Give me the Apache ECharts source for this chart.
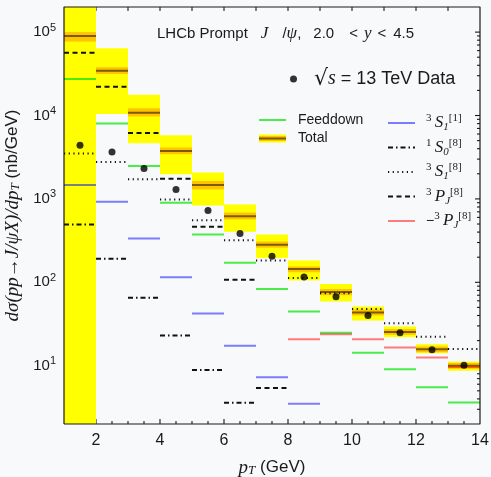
<!DOCTYPE html>
<html>
<head>
<meta charset="utf-8">
<script src="https://cdn.jsdelivr.net/npm/echarts@6/dist/echarts.min.js"></script>
<style>
  *{margin:0;padding:0;}
  body{background:#f8f9fa;}
  #main{width:491px;height:477px;}
</style>
</head>
<body>
<div id="main"></div>
<script>
// pT bins (GeV)
var binLo = [1, 2, 3, 4, 5, 6, 7, 8, 9, 10, 11, 12, 13];
var binHi = [2, 3, 4, 5, 6, 7, 8, 9, 10, 11, 12, 13, 14];

// LHCb 13 TeV points (nb/GeV)
var lhcbData = [4400, 3660, 2310, 1300, 727, 384, 205, 116, 67.1, 40.0, 24.9, 15.5, 10.1];

// total prediction: central line, inner (orange) and outer (yellow) bands
var totalCentral = [89500, 34500, 10800, 3760, 1470, 621, 283, 144, 76.4, 43.4, 25.4, 15.7, 10.0];
var totalInnerLo = [77100, 31500, 9750, 3430, 1300, 567, 260, 132, 70.0, 40.0, 23.5, 14.5, 9.3];
var totalInnerHi = [100000, 37900, 12200, 4130, 1640, 685, 309, 155, 83.0, 47.0, 27.5, 17.0, 10.8];
var totalOuterLo = [1, 10400, 4650, 1970, 835, 403, 196, 105.5, 58.9, 34.8, 22.0, 14.1, 8.7];
var totalOuterHi = [300000, 64200, 17700, 5810, 2070, 859, 374, 183, 95.4, 51.3, 29.5, 18.1, 11.2];

// channels
var feeddown = [27400, 8040, 2480, 900, 374, 171, 83.0, 44.7, 24.9, 14.3, 9.05, 5.5, 3.63];
var s1Singlet = [1470, 925, 335, 115, 42.3, 17.3, 7.25, 3.49, null, null, null, null, null];
var s0Octet = [493, 191, 65.3, 23.0, 8.88, 3.59, null, null, null, null, null, null, null];
var s1Octet = [3500, 2770, 1717, 986, 556, 319, 183, 113, 74.0, 48.0, 32.4, 22.3, 15.9];
var pjOctet = [56400, 22100, 6190, 1750, 463, 107, 5.39, null, null, null, null, null, null];
var pjOctetNeg = [null, null, null, null, null, null, null, 20.8, 23.9, 20.8, 16.5, 12.5, 9.57];

// frame ticks
var xMajorTicks = [2, 4, 6, 8, 10, 12];
var xMinorTicks = [1.5, 2.5, 3, 3.5, 4.5, 5, 5.5, 6.5, 7, 7.5, 8.5, 9, 9.5, 10.5, 11, 11.5, 12.5, 13, 13.5];
var xTopTicks = [2, 3, 4, 5, 6, 7, 8, 9, 10, 11, 12, 13];
var yMajorTicks = [10, 100, 1000, 10000, 100000];
var minorMantissa = [2, 3, 4, 5, 6, 7, 8, 9];
var xRange = [1, 14];
var yRange = [2, 200000];

var sans = 'Liberation Sans';
var serif = 'Liberation Serif';
var ink = '#1a1a1a';

function stepData(vals) {
    var out = [];
    vals.forEach(function (v, i) {
        if (v == null) return;
        out.push([binLo[i], v], [binHi[i], v], [binHi[i], '-']);
    });
    return out;
}

function bandData(lo, hi) {
    return binLo.map(function (x0, i) { return [x0, binHi[i], lo[i], hi[i]]; });
}

function renderBand(color) {
    return function (params, api) {
        var p0 = api.coord([api.value(0), api.value(3)]);
        var p1 = api.coord([api.value(1), api.value(2)]);
        var cs = params.coordSys;
        var rect = echarts.graphic.clipRectByRect(
            {x: p0[0], y: p0[1], width: p1[0] - p0[0], height: p1[1] - p0[1]},
            {x: cs.x, y: cs.y, width: cs.width, height: cs.height});
        return rect && {type: 'rect', shape: rect, style: {fill: color}};
    };
}

function stepLine(name, vals, color, width, dash, z) {
    return {
        name: name, type: 'line', data: stepData(vals),
        symbol: 'none', showSymbol: false, connectNulls: false, z: z || 3,
        lineStyle: {color: color, width: width, type: dash || 'solid', cap: 'butt'},
        itemStyle: {color: color},
        emphasis: {disabled: true}
    };
}

// tick rows: [kind, x, y]; kind 0/1 bottom major/minor, 2 top, 3/4 left+right major/minor
var tickRows = [];
xMajorTicks.forEach(function (x) { tickRows.push([0, x, 100]); });
xMinorTicks.forEach(function (x) { tickRows.push([1, x, 100]); });
xTopTicks.forEach(function (x) { tickRows.push([2, x, 100]); });
yMajorTicks.forEach(function (y) { tickRows.push([3, 7.5, y]); });
yMajorTicks.concat([1]).forEach(function (d) {
    minorMantissa.forEach(function (m) {
        var v = m * d;
        if (v > yRange[0] && v < yRange[1]) tickRows.push([4, 7.5, v]);
    });
});

function renderTick(params, api) {
    var kind = api.value(0);
    var p = api.coord([api.value(1), api.value(2)]);
    var cs = params.coordSys;
    var w = 1.1;
    var shape;
    if (kind <= 2) {
        var len = kind === 0 ? 5 : (kind === 1 ? 3 : 4);
        var y0 = kind === 2 ? cs.y : cs.y + cs.height - len;
        shape = {x: p[0] - w / 2, y: y0, width: w, height: len};
        return {type: 'rect', shape: shape, style: {fill: ink}};
    }
    var l = kind === 3 ? 5 : 3;
    // left tick plus a mirrored one on the right edge
    return {
        type: 'group',
        children: [
            {type: 'rect', shape: {x: cs.x, y: p[1] - w / 2, width: l, height: w}, style: {fill: ink}},
            {type: 'rect', shape: {x: cs.x + cs.width - l, y: p[1] - w / 2, width: l, height: w}, style: {fill: ink}}
        ]
    };
}

var totalIcon = 'image://data:image/svg+xml;utf8,' + encodeURIComponent(
    '<svg xmlns="http://www.w3.org/2000/svg" width="27" height="14">' +
    '<rect y="3" width="27" height="8" fill="#ffff00"/>' +
    '<rect y="4.5" width="27" height="5" fill="#ffc400"/>' +
    '<rect y="6" width="27" height="2" fill="#7d5a00"/></svg>');

// line-only legend icon: hide the marker that line series put in the middle
var noMarker = {color: 'rgba(0,0,0,0)', borderColor: 'rgba(0,0,0,0)', borderWidth: 0};

var legendRich = {
    t: {fontFamily: sans, fontSize: 14, color: ink, lineHeight: 20},
    d: {fontFamily: sans, fontSize: 18, color: ink, lineHeight: 20},
    m: {fontFamily: serif, fontStyle: 'italic', fontSize: 17, color: ink, lineHeight: 20},
    ms: {fontFamily: serif, fontStyle: 'italic', fontSize: 20, color: ink, lineHeight: 20},
    sp: {fontFamily: serif, fontSize: 11, color: ink, lineHeight: 12, verticalAlign: 'top'},
    sb: {fontFamily: serif, fontStyle: 'italic', fontSize: 11, color: ink, lineHeight: 12, verticalAlign: 'bottom'},
    r: {fontFamily: 'DejaVu Serif', fontSize: 22, color: ink, lineHeight: 24}
};

var legendLabels = {
    'Feeddown': '{t|Feeddown}',
    'Total': '{t|Total}',
    '3S1[1]': '{sp|3} {m|S}{sb|1}{sp|[1]}',
    '1S0[8]': '{sp|1} {m|S}{sb|0}{sp|[8]}',
    '3S1[8]': '{sp|3} {m|S}{sb|1}{sp|[8]}',
    '3PJ[8]': '{sp|3} {m|P}{sb|J}{sp|[8]}',
    '-3PJ[8]': '{t|\u2212}{sp|3} {m|P}{sb|J}{sp|[8]}',
    'Data': '{r|\u221a}{ms|s}{d| = 13 TeV Data}'
};

function legendFmt(name) { return legendLabels[name]; }

var titleRich = {
    a: {fontFamily: sans, fontSize: 15, fontWeight: 'normal', color: ink},
    m: {fontFamily: serif, fontStyle: 'italic', fontSize: 17, fontWeight: 'normal', color: ink},
    g1: {width: 13}, g2: {width: 14}, g3: {width: 12}, g4: {width: 15}, g5: {width: 6}, g6: {width: 7}
};

var option = {
    backgroundColor: '#f8f9fa',
    animation: false,
    title: {
        text: '{a|LHCb Prompt}{g1| }{m|J}{g2| }{a|/}{m|\u03c8}{a|,}{g3| }{a|2.0}{g4| }{a|<}{g5| }{m|y}{g5| }{a|<}{g6| }{a|4.5}',
        left: 157, top: 25, padding: 0,
        textStyle: {fontWeight: 'normal', rich: titleRich}
    },
    legend: [
        {
            data: [{name: 'Data', icon: 'circle'}],
            left: 290, top: 68, padding: 0, itemWidth: 7, itemHeight: 7,
            selectedMode: false, formatter: legendFmt,
            textStyle: {padding: [0, 0, 0, 12], rich: legendRich}
        },
        {
            data: [{name: 'Feeddown', itemStyle: noMarker}, {name: 'Total', icon: totalIcon}],
            orient: 'vertical', left: 258, top: 113, padding: 0,
            itemWidth: 27, itemHeight: 14, itemGap: 4.5,
            selectedMode: false, formatter: legendFmt,
            textStyle: {padding: [0, 0, 0, 7], rich: legendRich}
        },
        {
            data: ['3S1[1]', '1S0[8]', '3S1[8]', '3PJ[8]', '-3PJ[8]'].map(function (n) {
                return {name: n, itemStyle: noMarker};
            }),
            orient: 'vertical', left: 387, top: 113, padding: 0,
            itemWidth: 27, itemHeight: 14, itemGap: 4.5,
            selectedMode: false, formatter: legendFmt,
            textStyle: {padding: [0, 0, 0, 6], rich: legendRich}
        }
    ],
    grid: {left: 64, right: 11, top: 7, bottom: 53, outerBoundsMode: 'none'},
    xAxis: {
        type: 'value', min: xRange[0], max: xRange[1], splitNumber: 6,
        name: '{m|p}{s|T}{t| (GeV)}', nameLocation: 'middle', nameGap: 34,
        nameTextStyle: {
            rich: {
                m: {fontFamily: serif, fontStyle: 'italic', fontSize: 19, color: ink},
                s: {fontFamily: serif, fontStyle: 'italic', fontSize: 13, color: ink, verticalAlign: 'bottom', lineHeight: 12},
                t: {fontFamily: sans, fontSize: 17, color: ink}
            }
        },
        axisLine: {show: false},
        axisTick: {show: false},
        splitLine: {show: false},
        axisLabel: {
            fontFamily: sans, fontSize: 16, color: ink, margin: 9,
            formatter: function (v) { return v === 1 ? '' : String(v); }
        }
    },
    yAxis: {
        type: 'log', logBase: 10, min: yRange[0], max: yRange[1],
        name: '{m|d\u03c3(pp\u2192J/\u03c8X)/dp}{s|T}{t| (nb/GeV)}',
        nameLocation: 'middle', nameGap: 30, nameRotate: 90,
        nameTextStyle: {
            rich: {
                m: {fontFamily: serif, fontStyle: 'italic', fontSize: 19, color: ink},
                s: {fontFamily: serif, fontStyle: 'italic', fontSize: 13, color: ink, verticalAlign: 'bottom', lineHeight: 12},
                t: {fontFamily: sans, fontSize: 17, color: ink}
            }
        },
        axisLine: {show: false},
        axisTick: {show: false},
        splitLine: {show: false},
        axisLabel: {
            margin: 8,
            formatter: function (v) {
                var e = Math.log10(v);
                if (Math.abs(e - Math.round(e)) > 1e-6) return '';
                return '{b|10}{e|' + Math.round(e) + '}';
            },
            rich: {
                b: {fontFamily: sans, fontSize: 15, color: ink, lineHeight: 20},
                e: {fontFamily: sans, fontSize: 11, color: ink, lineHeight: 12, verticalAlign: 'top'}
            }
        }
    },
    series: [
        {
            name: 'frame ticks', type: 'custom', z: 1,
            renderItem: renderTick,
            encode: {x: 1, y: 2},
            data: tickRows
        },
        {
            name: 'Total outer', type: 'custom', z: 1, silent: true,
            renderItem: renderBand('#ffff00'),
            encode: {x: [0, 1], y: [2, 3]},
            data: bandData(totalOuterLo, totalOuterHi)
        },
        {
            name: 'Total inner', type: 'custom', z: 1, silent: true,
            renderItem: renderBand('#ffc400'),
            encode: {x: [0, 1], y: [2, 3]},
            data: bandData(totalInnerLo, totalInnerHi)
        },
        stepLine('Total', totalCentral, '#7d5a00', 2, 'solid', 2),
        stepLine('Feeddown', feeddown, 'rgba(0,230,0,0.7)', 2),
        stepLine('3S1[1]', s1Singlet, 'rgba(0,0,255,0.5)', 2),
        stepLine('1S0[8]', s0Octet, '#111', 2, [5, 3, 1.5, 3]),
        stepLine('3S1[8]', s1Octet, '#111', 2, [1.2, 3.5]),
        stepLine('3PJ[8]', pjOctet, '#111', 2, [5, 3.5]),
        stepLine('-3PJ[8]', pjOctetNeg, 'rgba(255,0,0,0.5)', 2),
        {
            name: 'Data', type: 'scatter', z: 5,
            symbol: 'circle', symbolSize: 7,
            itemStyle: {color: '#000'},
            data: lhcbData.map(function (v, i) { return [(binLo[i] + binHi[i]) / 2, v]; })
        },
        {
            // plot frame along the axis extents
            name: 'frame', type: 'line', z: 4, clip: false,
            symbol: 'none', showSymbol: false, silent: true,
            lineStyle: {color: ink, width: 1.2},
            emphasis: {disabled: true},
            data: [[xRange[0], yRange[0]], [xRange[1], yRange[0]], [xRange[1], yRange[1]],
                   [xRange[0], yRange[1]], [xRange[0], yRange[0]]]
        }
    ]
};

var chart = echarts.init(document.getElementById('main'));
chart.setOption(option);
</script>
</body>
</html>
